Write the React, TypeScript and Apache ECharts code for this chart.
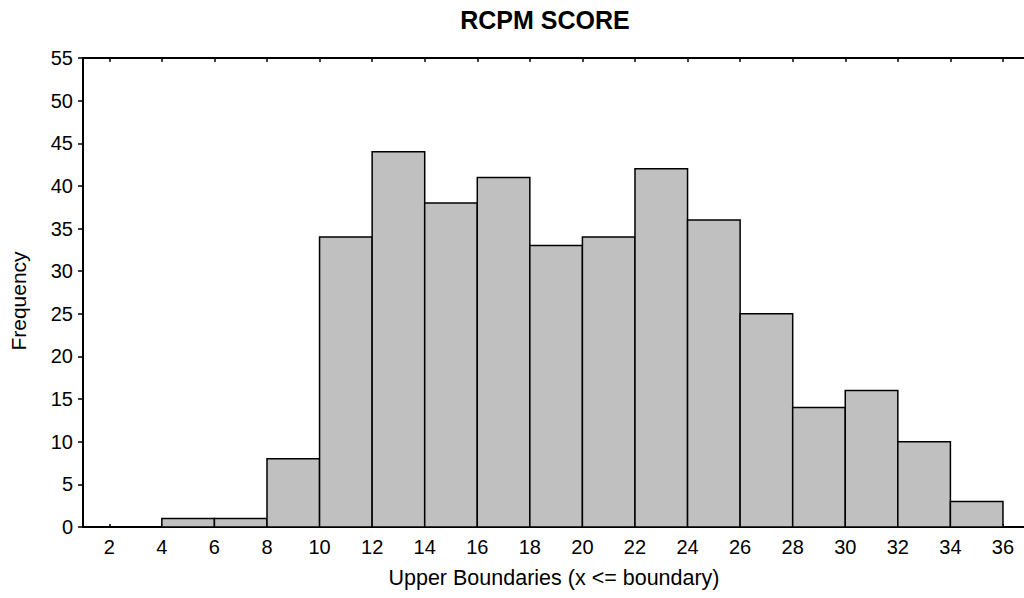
import React, { useEffect, useRef } from "react";
import * as echarts from "echarts";

const lowerBounds = [2, 4, 6, 8, 10, 12, 14, 16, 18, 20, 22, 24, 26, 28, 30, 32, 34];
const upperBounds = [4, 6, 8, 10, 12, 14, 16, 18, 20, 22, 24, 26, 28, 30, 32, 34, 36];
const frequencies = [0, 1, 1, 8, 34, 44, 38, 41, 33, 34, 42, 36, 25, 14, 16, 10, 3];
const xTickValues = [2, 4, 6, 8, 10, 12, 14, 16, 18, 20, 22, 24, 26, 28, 30, 32, 34, 36];

const titleText = "RCPM SCORE";
const xTitle = "Upper Boundaries (x <= boundary)";
const yTitle = "Frequency";

const FONT = "'Liberation Sans', Arial, sans-serif";

export default function App() {
  const ref = useRef<HTMLDivElement>(null);
  useEffect(() => {
    if (!ref.current) return;
    const chart = echarts.init(ref.current, null, { renderer: "svg" });
    const data = lowerBounds.map((lo, i) => [lo, upperBounds[i], frequencies[i]]);
    const xMin = 1;
    const xMax = 36.8;
    chart.setOption({
      animation: false,
      backgroundColor: "#ffffff",
      grid: { left: 83, right: 0, top: 58, bottom: 71, containLabel: false },
      graphic: [
        {
          type: "text",
          x: 545,
          y: 20,
          style: {
            text: titleText,
            fontFamily: FONT,
            fontSize: 25,
            fontWeight: "bold",
            fill: "#000",
            align: "center",
            verticalAlign: "middle",
          },
        },
        {
          type: "text",
          x: 554,
          y: 578,
          style: {
            text: xTitle,
            fontFamily: FONT,
            fontSize: 21.5,
            fill: "#000",
            align: "center",
            verticalAlign: "middle",
          },
        },
        {
          type: "text",
          x: 18,
          y: 301,
          rotation: Math.PI / 2,
          style: {
            text: yTitle,
            fontFamily: FONT,
            fontSize: 21,
            fill: "#000",
            align: "center",
            verticalAlign: "middle",
          },
        },
      ],
      xAxis: [
        {
          type: "value",
          position: "bottom",
          min: xMin,
          max: xMax,
          axisLine: { show: true, lineStyle: { color: "#000", width: 2 } },
          axisTick: {
            show: true,
            inside: true,
            length: 3,
            customValues: xTickValues,
            lineStyle: { color: "#000", width: 1.5 },
          },
          axisLabel: {
            show: true,
            customValues: xTickValues,
            margin: 10,
            color: "#000",
            fontFamily: FONT,
            fontSize: 20,
          },
          splitLine: { show: false },
        },
        {
          type: "value",
          position: "top",
          min: xMin,
          max: xMax,
          axisLine: { show: true, onZero: false, lineStyle: { color: "#000", width: 2 } },
          axisTick: {
            show: true,
            inside: true,
            length: 4,
            customValues: xTickValues,
            lineStyle: { color: "#000", width: 1.5 },
          },
          axisLabel: { show: false },
          splitLine: { show: false },
        },
      ],
      yAxis: {
        type: "value",
        min: 0,
        max: 55,
        interval: 5,
        axisLine: { show: true, onZero: false, lineStyle: { color: "#000", width: 2 } },
        axisTick: { show: true, inside: false, length: 5, lineStyle: { color: "#000", width: 1.5 } },
        axisLabel: { margin: 10, color: "#000", fontFamily: FONT, fontSize: 20 },
        splitLine: { show: false },
      },
      series: [
        {
          type: "custom",
          xAxisIndex: 0,
          yAxisIndex: 0,
          encode: { x: [0, 1], y: 2 },
          data,
          renderItem: (params: any, api: any) => {
            const lo = api.value(0);
            const hi = api.value(1);
            const v = api.value(2);
            const p0 = api.coord([lo, 0]);
            const p1 = api.coord([hi, v]);
            return {
              type: "rect",
              shape: { x: p0[0], y: p1[1], width: p1[0] - p0[0], height: p0[1] - p1[1] },
              style: { fill: "#c0c0c0", stroke: "#000", lineWidth: 1.5 },
            };
          },
        },
      ],
    });
    return () => chart.dispose();
  }, []);
  return (
    <div
      ref={ref}
      style={{ position: "fixed", left: 0, top: 0, width: 1024, height: 598, background: "#fff" }}
    />
  );
}
